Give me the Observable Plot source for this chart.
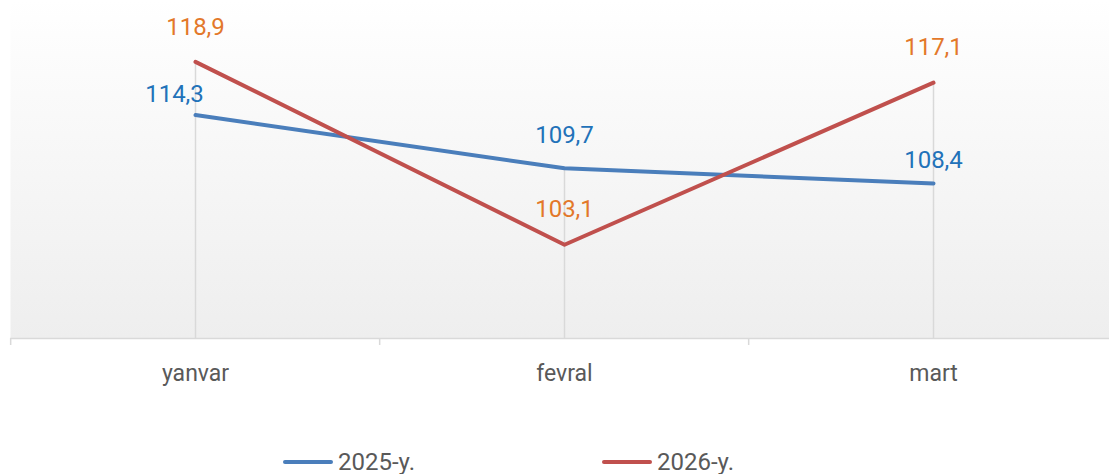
<!DOCTYPE html>
<html><head><meta charset="utf-8">
<script src="https://cdn.jsdelivr.net/npm/d3@7"></script>
<script src="https://cdn.jsdelivr.net/npm/@observablehq/plot@0.6"></script>
<style>
body{margin:0;background:#fff;font-family:Roboto,"DejaVu Sans",sans-serif;}
#legend{position:relative;width:1109px;height:44px;}
.item{position:absolute;top:32px;transform:translateY(-50%);display:flex;align-items:center;font-size:24px;color:#595959;}
.swatch{width:50px;height:4px;border-radius:2px;margin-right:5px;}
</style>
</head><body>
<div id="chart"></div>
<div id="legend"></div>
<script>
const months = ["yanvar", "fevral", "mart"];
const v2025 = [114.3, 109.7, 108.4];
const v2026 = [118.9, 103.1, 117.1];
const seriesNames = ["2025-y.", "2026-y."];

const lineColors = ["#4a7ebb", "#c0504d"];
const labelColors = ["#2272b9", "#e3782a"];
const fmt = v => v.toFixed(1).replace(".", ",");

const r25 = months.map((m, i) => ({month: m, value: v2025[i]}));
const r26 = months.map((m, i) => ({month: m, value: v2026[i]}));
const maxes = months.map((m, i) => ({month: m, value: Math.max(v2025[i], v2026[i])}));

const W = 1109, H = 430, MB = 92;
const left = 10, right = 1119;
const bw = (right - left) / months.length;

const defs = () => {
  const ns = "http://www.w3.org/2000/svg";
  const d = document.createElementNS(ns, "defs");
  const g = document.createElementNS(ns, "linearGradient");
  g.setAttribute("id", "bg");
  g.setAttribute("x1", "0"); g.setAttribute("y1", "0");
  g.setAttribute("x2", "0"); g.setAttribute("y2", "1");
  [["0", "#ffffff"], ["0.1", "#fdfdfd"], ["1", "#eeeeee"]].forEach(([o, c]) => {
    const s = document.createElementNS(ns, "stop");
    s.setAttribute("offset", o); s.setAttribute("stop-color", c);
    g.appendChild(s);
  });
  d.appendChild(g);
  return d;
};

const chart = Plot.plot({
  width: W, height: H,
  marginTop: 0, marginLeft: left, marginRight: 0, marginBottom: MB,
  x: {type: "point", domain: months, range: [left + bw / 2, right - bw / 2], padding: 0, axis: null},
  y: {domain: [95, 124.2], axis: null},
  style: {fontFamily: "Roboto, sans-serif", background: "transparent"},
  marks: [
    defs,
    Plot.frame({fill: "url(#bg)", stroke: "none"}),
    Plot.ruleY([95], {stroke: "#d9d9d9", strokeWidth: 1.5}),
    Plot.ruleX(months, {x: d => d, dx: -bw / 2, insetTop: H - MB, insetBottom: -7, stroke: "#d9d9d9", strokeWidth: 1.5}),
    Plot.ruleX(maxes, {x: "month", y1: 95, y2: "value", stroke: "#d9d9d9", strokeWidth: 1.5}),
    Plot.line(r25, {x: "month", y: "value", stroke: lineColors[0], strokeWidth: 4, strokeLinecap: "round"}),
    Plot.line(r26, {x: "month", y: "value", stroke: lineColors[1], strokeWidth: 4, strokeLinecap: "round"}),
    Plot.text(r25, {filter: (d, i) => i === 0, x: "month", y: "value", text: d => fmt(d.value), fill: labelColors[0], fontSize: 24, dx: -21, dy: -21}),
    Plot.text(r25, {filter: (d, i) => i === 1, x: "month", y: "value", text: d => fmt(d.value), fill: labelColors[0], fontSize: 24, dy: -33}),
    Plot.text(r25, {filter: (d, i) => i === 2, x: "month", y: "value", text: d => fmt(d.value), fill: labelColors[0], fontSize: 24, dy: -23}),
    Plot.text(r26, {x: "month", y: "value", text: d => fmt(d.value), fill: labelColors[1], fontSize: 24, dy: -35}),
    Plot.text(months, {x: d => d, frameAnchor: "bottom", dy: 42, text: d => d, fill: "#595959", fontSize: 23})
  ]
});
document.getElementById("chart").appendChild(chart);

const legend = document.getElementById("legend");
const lefts = [283, 602];
seriesNames.forEach((name, i) => {
  const it = document.createElement("div");
  it.className = "item";
  it.style.left = lefts[i] + "px";
  const sw = document.createElement("div");
  sw.className = "swatch";
  sw.style.background = lineColors[i];
  const tx = document.createElement("span");
  tx.textContent = name;
  it.appendChild(sw); it.appendChild(tx);
  legend.appendChild(it);
});
</script>
</body></html>
